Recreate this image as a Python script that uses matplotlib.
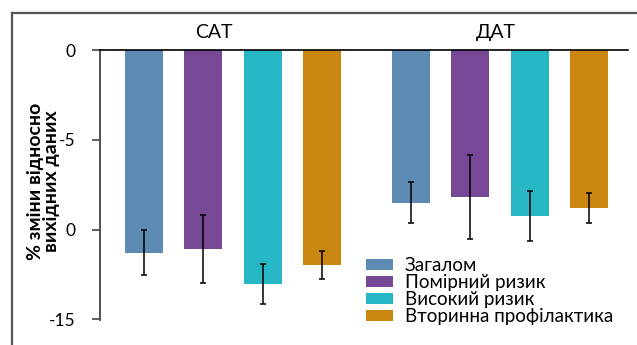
import matplotlib
matplotlib.use("Agg")
import matplotlib.pyplot as plt
from matplotlib.lines import Line2D
from matplotlib.patches import Patch

plt.rcParams['font.family'] = ['Lato', 'DejaVu Sans']

# Data
groups = ["САТ", "ДАТ"]
series = ["Загалом", "Помірний ризик", "Високий ризик", "Вторинна профілактика"]
values_sat = [-11.3, -11.1, -13.05, -11.95]
errors_sat = [1.25, 1.9, 1.12, 0.78]
values_dat = [-8.5, -8.2, -9.25, -8.8]
errors_dat = [1.15, 2.33, 1.37, 0.85]
colors = ["#5E8BB3", "#774895", "#26B6C4", "#C98712"]
ytick_values = [0, -5, -10, -15]
ytick_labels = ["0", "-5", "0", "-15"]

fig = plt.figure(figsize=(6.37, 3.45), dpi=100)
ax = fig.add_axes([0.157, 0.072, 0.829, 0.783])

x_sat = [0, 1, 2, 3]
x_dat = [4.5, 5.5, 6.5, 7.5]
width = 0.64

for xs, vals, errs in [(x_sat, values_sat, errors_sat), (x_dat, values_dat, errors_dat)]:
    ax.bar(xs, vals, width=width, color=colors)
    ax.errorbar(xs, vals, yerr=errs, fmt='none', ecolor='black',
                elinewidth=1.1, capsize=2.5, capthick=1.1)

ax.set_xlim(-0.74, 8.16)
ax.set_ylim(-15.05, 0)

ax.spines['right'].set_visible(False)
ax.spines['bottom'].set_visible(False)
ax.spines['top'].set_color('black')
ax.spines['top'].set_linewidth(1.2)
ax.spines['left'].set_color('#444444')
ax.spines['left'].set_linewidth(1.3)
ax.set_xticks([])
ax.set_yticks(ytick_values)
ax.set_yticklabels(ytick_labels, fontsize=12.5)
ax.tick_params(axis='y', length=6, width=1.2, color='#444444', pad=12)

# group titles above the zero line
ax.text(1.18, 1.035, groups[0], transform=ax.get_xaxis_transform(),
        ha='center', va='bottom', fontsize=14)
ax.text(5.94, 1.035, groups[1], transform=ax.get_xaxis_transform(),
        ha='center', va='bottom', fontsize=14)

fig.text(0.068, 0.475, "% зміни відносно\nвихідних даних", rotation=90,
         ha='center', va='center', fontsize=14, fontweight='bold',
         linespacing=0.95)

handles = [Patch(facecolor=c) for c in colors]
ax.legend(handles, series, loc='lower left', bbox_to_anchor=(0.49, -0.045),
          frameon=False, fontsize=13.5, handlelength=1.45, handleheight=0.5,
          labelspacing=0.0, handletextpad=0.6, borderaxespad=0)

# outer frame
fig.add_artist(Line2D([0.0188, 1.0], [0.962, 0.962], color='#555555', lw=1.6,
                      transform=fig.transFigure))
fig.add_artist(Line2D([0.0188, 0.0188], [0.0, 0.962], color='#555555', lw=1.6,
                      transform=fig.transFigure))

fig.savefig("out.png", dpi=100)
